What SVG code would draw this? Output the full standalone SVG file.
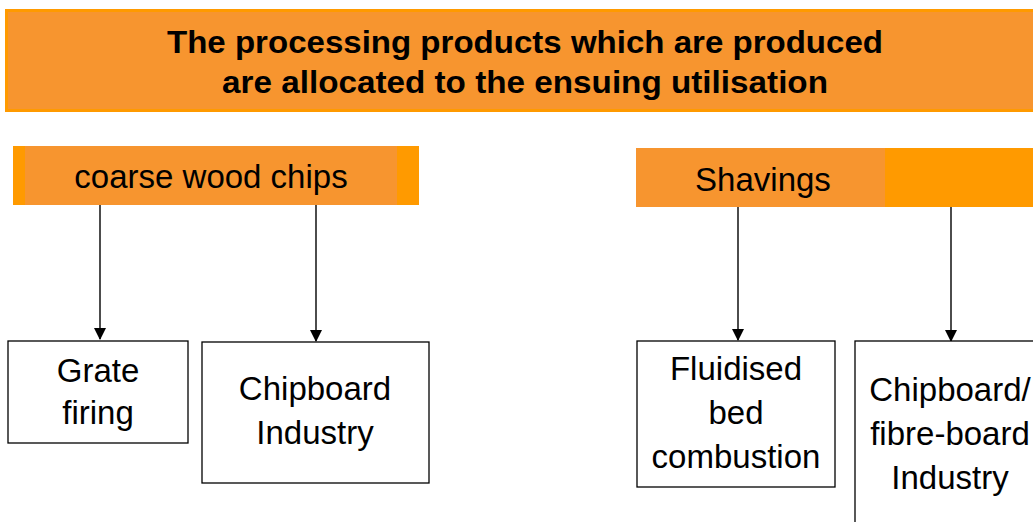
<svg xmlns="http://www.w3.org/2000/svg" width="1033" height="522" viewBox="0 0 1033 522">
  <defs>
    <style>
      .band { fill: #F7952F; }
      .edge { fill: #FF9A00; }
      .box { fill: #FFFFFF; stroke: #000000; stroke-width: 1.3; }
      .title { font-family: "Liberation Sans", Arial, sans-serif; font-weight: bold; font-size: 31px; fill: #000; text-anchor: middle; }
      .lbl { font-family: "Liberation Sans", Arial, sans-serif; font-size: 33px; fill: #000; text-anchor: middle; }
      .conn { stroke: #000; stroke-width: 1.4; fill: none; marker-end: url(#arrow); }
    </style>
    <marker id="arrow" viewBox="0 0 12 12" refX="11" refY="6" markerWidth="12" markerHeight="12" markerUnits="userSpaceOnUse" orient="auto">
      <path d="M0,0 L12,6 L0,12 z" fill="#000"/>
    </marker>
  </defs>

  <rect width="1033" height="522" fill="#FFFFFF"/>

  <!-- heading banner -->
  <g id="heading">
    <rect class="edge" x="5" y="9" width="1030" height="103"/>
    <rect class="band" x="8" y="12" width="1027" height="97"/>
    <text class="title" x="525" y="53" textLength="716" lengthAdjust="spacingAndGlyphs">The processing products which are produced</text>
    <text class="title" x="525" y="93" textLength="606" lengthAdjust="spacingAndGlyphs">are allocated to the ensuing utilisation</text>
  </g>

  <!-- source categories -->
  <g id="coarse-wood-chips">
    <rect class="edge" x="13" y="146" width="406" height="59"/>
    <rect class="band" x="25" y="146" width="372" height="59"/>
    <text class="lbl" x="211" y="188">coarse wood chips</text>
  </g>

  <g id="shavings">
    <rect class="edge" x="636" y="148" width="399" height="59"/>
    <rect class="band" x="636" y="148" width="249" height="59"/>
    <text class="lbl" x="763" y="191">Shavings</text>
  </g>

  <!-- connectors -->
  <g id="connectors">
    <line class="conn" x1="100" y1="205" x2="100" y2="339"/>
    <line class="conn" x1="316" y1="205" x2="316" y2="341"/>
    <line class="conn" x1="738" y1="207" x2="738" y2="340"/>
    <line class="conn" x1="951" y1="207" x2="951" y2="341"/>
  </g>

  <!-- utilisation targets -->
  <g id="grate-firing">
    <rect class="box" x="8" y="341" width="180" height="102"/>
    <text class="lbl" x="98" y="382">Grate</text>
    <text class="lbl" x="98" y="424">firing</text>
  </g>

  <g id="chipboard-industry">
    <rect class="box" x="202" y="342" width="227" height="141"/>
    <text class="lbl" x="315" y="400">Chipboard</text>
    <text class="lbl" x="315" y="444">Industry</text>
  </g>

  <g id="fluidised-bed-combustion">
    <rect class="box" x="637" y="341" width="198" height="146"/>
    <text class="lbl" x="736" y="380">Fluidised</text>
    <text class="lbl" x="736" y="424">bed</text>
    <text class="lbl" x="736" y="468">combustion</text>
  </g>

  <g id="chipboard-fibreboard-industry">
    <rect class="box" x="855" y="341" width="190" height="190"/>
    <text class="lbl" x="950" y="401">Chipboard/</text>
    <text class="lbl" x="950" y="445">fibre-board</text>
    <text class="lbl" x="950" y="489">Industry</text>
  </g>
</svg>
